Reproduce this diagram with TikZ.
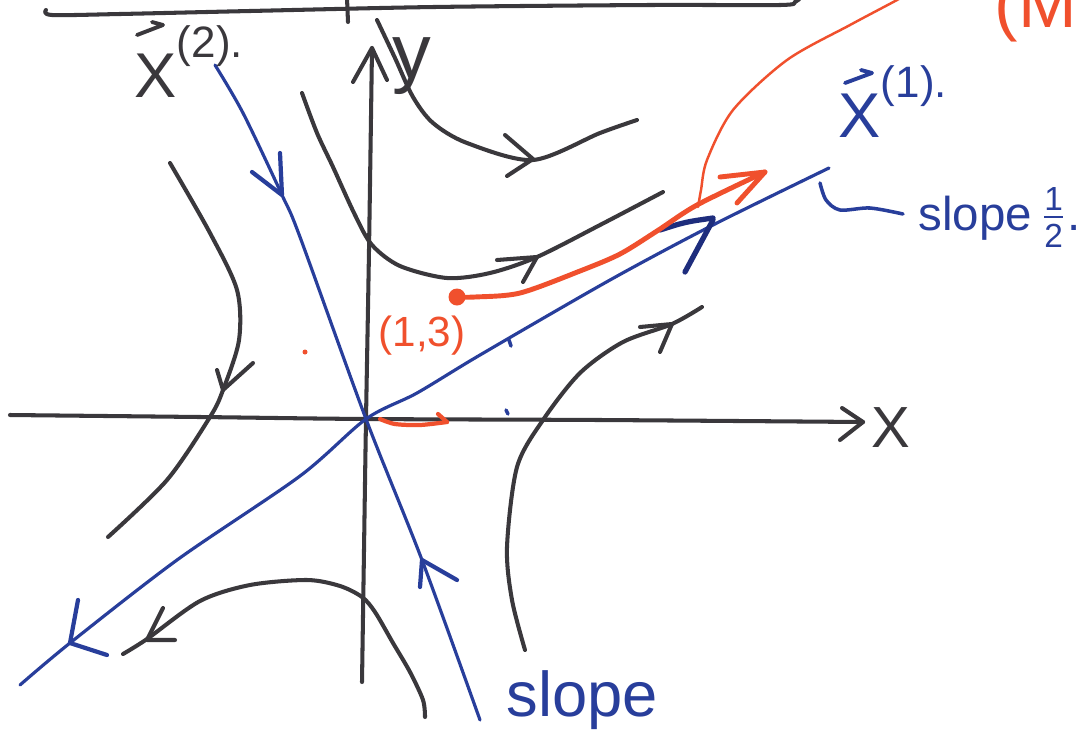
\documentclass[tikz,border=0pt]{standalone}
\usepackage{amsmath}
\usepackage{fontspec}
\setmainfont{Liberation Sans}
\definecolor{ink}{RGB}{58,56,60}
\definecolor{bink}{RGB}{40,62,155}
\definecolor{bdark}{RGB}{30,45,125}
\definecolor{rink}{RGB}{240,80,45}
\newcommand{\supsm}[1]{\raisebox{0.62em}{\fontsize{12.5}{13}\selectfont #1}}
\newcommand{\fracdig}[1]{\text{\fontsize{9.5}{10}\selectfont #1}}
\begin{document}
\begin{tikzpicture}[x=0.01cm,y=-0.01cm,
  blk/.style={draw=ink,line width=1.15pt,line cap=round,line join=round},
  blu/.style={draw=bink,line width=0.9pt,line cap=round,line join=round},
  bluhead/.style={draw=bdark,line width=1.5pt,line cap=round,line join=round},
  bluarrow/.style={draw=bink,line width=1.2pt,line cap=round,line join=round},
  redl/.style={draw=rink,line width=1.4pt,line cap=round,line join=round},
  redthin/.style={draw=rink,line width=0.7pt,line cap=round,line join=round},
  vecmark/.style={line width=1.1pt,line cap=round,line join=round},
  lbl/.style={inner sep=0pt,anchor=base west}]
\fill[white] (0,0) rectangle (1091,730);
\useasboundingbox (0,0) rectangle (1091,730);

% top border line and tick
\draw[blk] plot[smooth] coordinates {(46,10) (52,15) (120,14) (250,11) (434,7) (650,5) (780,5) (795,2) (800,-2)};
\draw[blk] (347,-2) -- (348,22);

% axes
\coordinate (O) at (366,419);
\draw[blk] plot[smooth] coordinates {(362,682) (364,550) (366,419) (369,250) (372,48)};
\draw[blk] (353,82) -- (372,48) -- (387,80);
\draw[blk] plot[smooth] coordinates {(10,415) (200,417) (366,419) (600,420) (863,422)};
\draw[blk] (842,408) -- (863,422) -- (840,440);
\node[lbl,text=ink,font=\fontsize{16.5}{18}\selectfont] (xlab) at (871,447) {X};
\node[text=ink,inner sep=0pt,anchor=base,font=\fontsize{22}{24}\selectfont] (ylab) at (412,78) {y};

% blue eigenline x(2)
\draw[blu] plot[smooth] coordinates {(215,65) (243,113) (282,195) (300,237) (366,419) (422,560) (480,720)};
\draw[bluarrow] (252,172) -- (282,195) -- (280,153);
\draw[bluarrow] (420,587) -- (422,560) -- (457,580);

% blue eigenline x(1)
\draw[blu] plot[smooth] coordinates {(20,685) (70,643) (177,560) (300,476) (366,419) (417,393) (480,355) (610,280) (713,225) (829,168)};
\draw[bluarrow] (78,600) -- (70,643) -- (107,655);
\draw[bluhead] (660,230) .. controls (685,222) .. (713,218);
\draw[bluhead] (685,272) -- (713,220);

% black trajectories
\draw[blk] plot[smooth] coordinates {(377,20) (395,58) (413,97) (433,123) (467,143) (533,160) (600,133) (637,120)};
\draw[blk] (505,135) -- (533,159) -- (507,176);

\draw[blk] plot[smooth] coordinates {(170,163) (210,233) (237,290) (239,340) (223,390) (210,417) (167,480) (108,537)};
\draw[blk] (217,370) -- (223,390) -- (253,363);

\draw[blk] plot[smooth] coordinates {(302,93) (317,133) (333,167) (355,215) (372,245) (400,266) (447,278) (490,273) (537,257) (600,225) (663,192)};
\draw[blk] (497,260) -- (537,257) -- (523,282);

\draw[blk] plot[smooth] coordinates {(525,650) (512,600) (507,547) (517,467) (543,420) (580,373) (623,342) (672,324) (702,307)};
\draw[blk] (640,327) -- (672,324) -- (660,352);

\draw[blk] plot[smooth] coordinates {(425,717) (423,700) (410,672) (393,643) (375,612) (362,597) (340,586) (307,580) (250,585) (200,601) (147,639) (123,654)};
\draw[blk] (163,608) -- (147,640) -- (175,640);

% red trajectory from (1,3)
\fill[rink] (457,297) circle[radius=0.85mm];
\draw[redl] plot[smooth] coordinates {(457,297) (475,297) (520,293) (580,271) (620,254) (657,231) (697,205) (765,172)};
\draw[redl] (720,177) -- (765,172) -- (737,203);
\draw[redthin] plot[smooth] coordinates {(698,207) (701,190) (707,160) (733,110) (787,60) (850,25) (897,0) (910,-8)};
\node[lbl,text=rink,font=\fontsize{12}{14}\selectfont] (pt13) at (378,346) {(1,3)};

% small marks
\draw[redthin,line width=1.2pt] plot[smooth] coordinates {(380,419) (395,424) (420,425) (447,422)};
\draw[redthin,line width=1.2pt] (438,414) -- (447,422);
\fill[rink] (305,352) circle[radius=0.25mm];
\draw[bink,line width=1pt,line cap=round] (509,340) -- (511,346);
\draw[bink,line width=1pt,line cap=round] (506,410) -- (508,414);

% labels
\node[lbl,text=ink,font=\fontsize{18}{20}\selectfont] (x2lab) at (134,97) {X\supsm{(2).}};
\draw[vecmark,draw=ink] (137,35) -- (163,25) -- (152,22);
\node[lbl,text=bink,font=\fontsize{18}{20}\selectfont] (x1lab) at (838,137) {X\supsm{(1).}};
\draw[vecmark,draw=bink] (845,83) -- (872,73) -- (861,70);
\coordinate (tailA) at (820,183);
\node[lbl,text=bink,font=\fontsize{13.5}{15}\selectfont] (slope1) at (918,230) {slope\,$\genfrac{}{}{0.6pt}{1}{\fracdig{1}}{\fracdig{2}}$.};
\draw[blu,line width=1pt] plot[smooth] coordinates {(tailA) (826,200) (840,210) (870,208) (903,214)};
\node[lbl,text=bink,font=\fontsize{18}{20}\selectfont] (slope2) at (506,716) {slope};
\node[lbl,text=rink,font=\fontsize{20}{22}\selectfont] (mlab) at (994,27) {(M};
\end{tikzpicture}
\end{document}
